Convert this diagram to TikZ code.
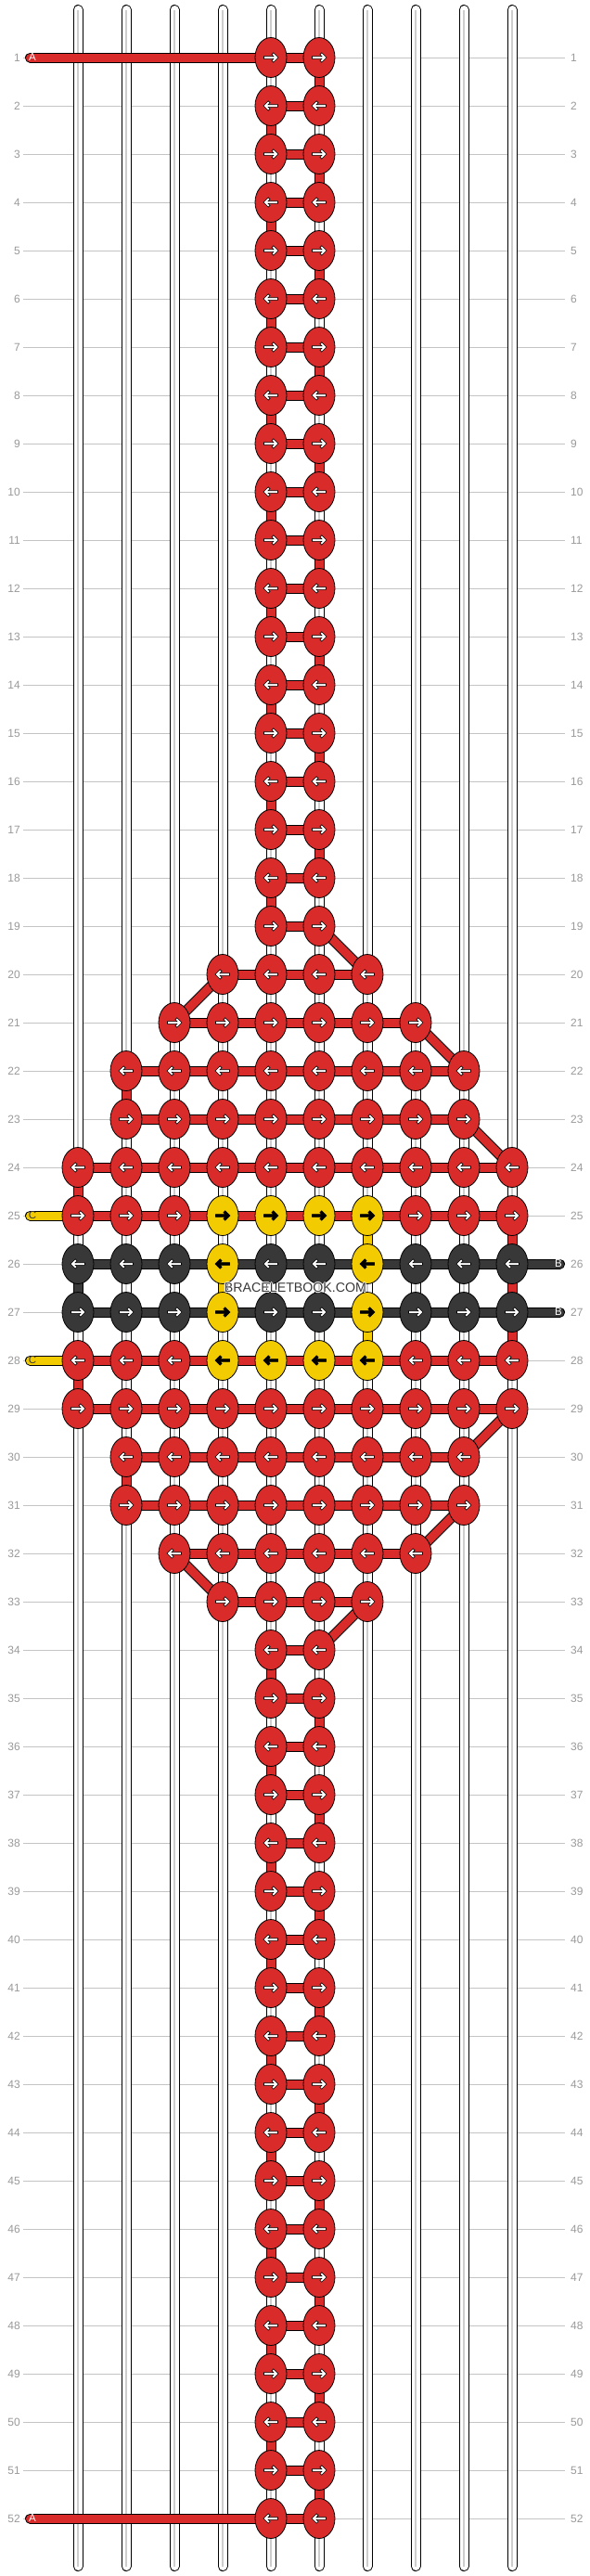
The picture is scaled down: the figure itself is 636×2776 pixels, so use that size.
\documentclass[tikz,border=0pt]{standalone}
\usepackage{fontspec}
\setmainfont{Liberation Sans}
\usetikzlibrary{shapes.geometric}
\definecolor{bbred}{HTML}{DA2B2B}
\definecolor{bbyellow}{HTML}{F2CC00}
\definecolor{bbdark}{HTML}{383838}
\definecolor{bbgrid}{HTML}{C4C4C4}
\definecolor{bbcore}{HTML}{CDCDCD}
\definecolor{bbnum}{HTML}{9A9A9A}
\pgfdeclarelayer{strands}
\pgfdeclarelayer{threads}
\pgfsetlayers{strands,threads,main}
\newcommand\halotext[1]{{\color{white}\rlap{\kern-1pt#1}\rlap{\kern1pt#1}\rlap{\raisebox{1pt}{#1}}\rlap{\raisebox{-1pt}{#1}}}#1}

\begin{document}
\begin{tikzpicture}[x=1pt,y=-1pt]
        \tikzset{knot/.style={ellipse,draw=black,line width=0.8pt,minimum width=34pt,minimum height=43pt,inner sep=0pt},
            thread/.style={draw=black,line width=1pt,double=#1,double distance=9pt,line cap=round},
            strand/.style={draw=black,line width=1pt,double=white,double distance=9pt,line cap=round},
            rownum/.style={text=bbnum,inner sep=0pt,font=\fontsize{12}{12}\selectfont},
            endletter/.style={inner sep=0pt,font=\fontsize{11.5}{11.5}\selectfont},
            rarrow/.pic={\filldraw[pic actions] (-7.5,-1.3) -- (2.9,-1.3) -- (0.9,-3.3) -- (2.8,-5.2) -- (8,0)
                -- (2.8,5.2) -- (0.9,3.3) -- (2.9,1.3) -- (-7.5,1.3) -- cycle;},
            larrow/.pic={\filldraw[pic actions,xscale=-1] (-7.5,-1.3) -- (2.9,-1.3) -- (0.9,-3.3) -- (2.8,-5.2) -- (8,0)
                -- (2.8,5.2) -- (0.9,3.3) -- (2.9,1.3) -- (-7.5,1.3) -- cycle;}}
        \useasboundingbox (0,0) rectangle (636,2776);
        \begin{pgfonlayer}{strands}
            \fill[white] (0,0) rectangle (636,2776);
            \foreach \r in {1,...,52}{
                \node[rownum,anchor=east] (ll\r) at (22,{10+52*\r}) {\r};
                \node[rownum,anchor=west] (rl\r) at (615,{10+52*\r}) {\r};
                \draw[bbgrid,line width=1pt,shorten <=3pt,shorten >=6pt] (ll\r.east) -- (rl\r.west);
            }
            \foreach \c in {1,...,10}{
                \coordinate (top\c) at ({32+52*\c},10.5);
                \coordinate (bot\c) at ({32+52*\c},2765.5);
                \draw[strand] (top\c) -- (bot\c);
                \draw[bbcore,line width=1.6pt] (top\c) -- (bot\c);
            }
        \end{pgfonlayer}
        \foreach \r in {1,...,52}{
            \pgfmathtruncatemacro\i{max(0,min(15,\r-19))}
            \pgfmathtruncatemacro\h{{0,1,2,3,3,4,4,4,4,4,4,3,3,2,1,0}[\i]}
            \pgfmathtruncatemacro\f{5-\h}
            \pgfmathtruncatemacro\l{6+\h}
            \def\hc{bbred}
            \ifnum\r=26 \def\hc{bbdark}\fi
            \ifnum\r=27 \def\hc{bbdark}\fi
            \foreach \c in {\f,...,\l}{
                \def\kc{\hc}\def\ac{white}
                \pgfmathtruncatemacro\yel{((\r==25||\r==28)&&\c>=4&&\c<=7)||((\r==26||\r==27)&&(\c==4||\c==7))}
                \ifnum\yel=1 \def\kc{bbyellow}\def\ac{black}\fi
                \node[knot,fill=\kc] (k\r-\c) at ({32+52*\c},{10+52*\r}) {};
                \ifodd\r\relax
                    \pic[fill=\ac,draw=black,line width=0.6pt] at (k\r-\c) {rarrow};
                \else
                    \pic[fill=\ac,draw=black,line width=0.6pt] at (k\r-\c) {larrow};
                \fi
                \ifnum\c>\f
                    \pgfmathtruncatemacro\cp{\c-1}
                    \begin{pgfonlayer}{threads}
                        \draw[thread=\hc] (k\r-\cp.center) -- (k\r-\c.center);
                    \end{pgfonlayer}
                \fi
            }
            \ifnum\r>1
                \pgfmathtruncatemacro\pr{\r-1}
                \ifodd\r\relax \edef\ca{\pf}\edef\cb{\f}\else \edef\ca{\pl}\edef\cb{\l}\fi
                \ifnum\pr=26 \def\vc{bbdark}\else \def\vc{bbred}\fi
                \begin{pgfonlayer}{threads}
                    \draw[thread=\vc] (k\pr-\ca.center) -- (k\r-\cb.center);
                \end{pgfonlayer}
            \fi
            \xdef\pf{\f}\xdef\pl{\l}
        }
        \coordinate (a1) at (32.5,62);
        \coordinate (a2) at (32.5,2714);
        \coordinate (b1) at (603.5,1362);
        \coordinate (b2) at (603.5,1414);
        \coordinate (c1) at (32.5,1310);
        \coordinate (c2) at (32.5,1466);
        \begin{pgfonlayer}{threads}
            \draw[thread=bbred] (k26-10.center) -- (k27-10.center);
            \draw[thread=bbyellow] (k25-7.center) -- (k26-7.center);
            \draw[thread=bbyellow] (k26-4.center) -- (k27-4.center);
            \draw[thread=bbyellow] (k27-7.center) -- (k28-7.center);
            \draw[thread=bbred] (a1) -- (k1-5.center);
            \draw[thread=bbred] (a2) -- (k52-5.center);
            \draw[thread=bbdark] (b1) -- (k26-10.center);
            \draw[thread=bbdark] (b2) -- (k27-10.center);
            \draw[thread=bbyellow] (c1) -- (k25-1.center);
            \draw[thread=bbyellow] (c2) -- (k28-1.center);
        \end{pgfonlayer}
        \node[endletter,text=white] (la1) at (35,62) {A};
        \node[endletter,text=white] (la2) at (35,2714) {A};
        \node[endletter,text=white] (lb1) at (602,1362) {B};
        \node[endletter,text=white] (lb2) at (602,1414) {B};
        \node[endletter,text=bbdark] (lc1) at (35,1310) {C};
        \node[endletter,text=bbdark] (lc2) at (35,1466) {C};
        \node[inner sep=0pt,text=bbdark,font=\fontsize{14.2}{14.2}\selectfont] (wm) at (318.5,1387.5) {\halotext{BRACELETBOOK.COM}};
    \end{tikzpicture}
\end{document}
